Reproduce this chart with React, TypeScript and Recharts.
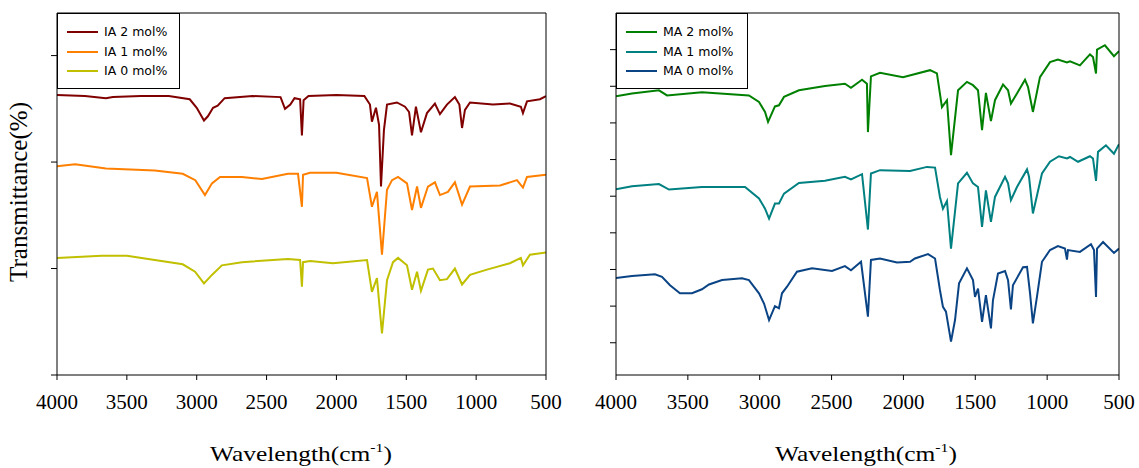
import { Line, LineChart, XAxis, YAxis } from 'recharts';

// wavenumber (cm-1), transmittance (offset, arbitrary units)
const IA2: [number, number][] = [
  [4000, 263], [3800, 262], [3650, 260], [3600, 261], [3400, 262], [3200, 262], [3050, 259], [3000, 251],
  [2948, 239], [2920, 243], [2883, 251], [2850, 253], [2800, 260], [2600, 262], [2400, 261], [2368, 250],
  [2330, 254], [2300, 260], [2260, 259], [2247, 225], [2235, 258], [2200, 262], [2000, 263], [1800, 262],
  [1760, 254], [1746, 238], [1717, 251], [1695, 235], [1681, 177], [1660, 230], [1638, 254], [1567, 256],
  [1509, 252], [1480, 247], [1459, 225], [1431, 252], [1395, 228], [1352, 246], [1295, 255], [1259, 245],
  [1209, 254], [1152, 261], [1120, 254], [1101, 232], [1080, 249], [1044, 256], [880, 254], [758, 255],
  [680, 252], [665, 246], [636, 257], [543, 259], [500, 262],
];

const IA1: [number, number][] = [
  [4000, 196], [3870, 198], [3650, 194], [3300, 192], [3100, 189], [3010, 183], [2941, 169], [2891, 180],
  [2833, 186], [2676, 186], [2533, 184], [2347, 189], [2275, 189], [2247, 158], [2239, 188], [2189, 190],
  [2000, 190], [1781, 185], [1746, 158], [1710, 172], [1674, 113], [1638, 174], [1602, 183], [1559, 186],
  [1495, 180], [1459, 155], [1423, 177], [1395, 157], [1345, 177], [1295, 181], [1259, 169], [1202, 172],
  [1152, 181], [1101, 160], [1044, 177], [829, 178], [708, 183], [665, 176], [636, 186], [500, 188],
];

const IA0: [number, number][] = [
  [4000, 110], [3680, 112], [3500, 112], [3300, 108], [3100, 104], [3012, 97], [2948, 86], [2891, 94],
  [2820, 103], [2676, 106], [2347, 109], [2260, 108], [2247, 83], [2239, 106], [2189, 107], [2025, 105],
  [1781, 108], [1746, 78], [1710, 91], [1674, 39], [1638, 89], [1595, 106], [1559, 110], [1495, 103],
  [1459, 80], [1423, 97], [1395, 79], [1345, 99], [1309, 100], [1259, 89], [1209, 90], [1152, 100],
  [1101, 85], [1044, 94], [923, 99], [758, 105], [680, 110], [665, 103], [615, 113], [500, 115],
];

const MA2: [number, number][] = [
  [4000, 77.3], [3889, 78.0], [3701, 78.9], [3645, 77.5], [3402, 78.4], [3075, 77.5], [3005, 75.7], [2963, 73.0],
  [2942, 70.3], [2894, 74.5], [2866, 74.8], [2831, 77.1], [2727, 78.9], [2546, 80.1], [2407, 80.7], [2365, 79.6],
  [2288, 81.8], [2254, 80.7], [2247, 67.5], [2226, 82.7], [2163, 83.7], [2003, 82.5], [1815, 84.4], [1767, 83.5],
  [1732, 74.3], [1697, 76.2], [1669, 61.2], [1620, 78.9], [1558, 81.2], [1516, 80.3], [1481, 78.9], [1453, 68.0],
  [1426, 78.2], [1391, 70.5], [1363, 76.2], [1307, 80.5], [1272, 78.9], [1252, 75.3], [1210, 78.0], [1154, 81.8],
  [1133, 79.8], [1099, 73.0], [1050, 82.5], [980, 86.6], [925, 87.3], [862, 86.5], [841, 86.8], [772, 85.7],
  [702, 88.7], [681, 88.0], [660, 83.5], [653, 90.0], [598, 91.2], [535, 88.2], [500, 89.6],
];

const MA1: [number, number][] = [
  [4000, 51.9], [3889, 52.7], [3701, 53.3], [3631, 51.8], [3402, 52.5], [3102, 52.5], [3005, 49.4], [2963, 46.6],
  [2935, 43.9], [2894, 48.0], [2866, 48.0], [2831, 50.7], [2727, 53.6], [2546, 54.2], [2407, 55.3], [2365, 54.6],
  [2288, 56.0], [2247, 40.9], [2226, 56.2], [2163, 57.1], [1954, 56.9], [1836, 58.0], [1780, 57.8], [1746, 49.8],
  [1725, 46.6], [1697, 48.7], [1669, 35.7], [1620, 53.5], [1558, 56.4], [1516, 53.5], [1481, 52.5], [1453, 41.6],
  [1426, 51.6], [1391, 43.0], [1363, 49.8], [1293, 55.3], [1272, 53.5], [1252, 48.9], [1210, 52.5], [1140, 57.3],
  [1126, 55.3], [1099, 45.3], [1036, 56.2], [980, 59.4], [918, 60.9], [862, 60.3], [841, 60.7], [785, 59.4],
  [702, 60.9], [681, 60.3], [660, 54.2], [646, 62.1], [591, 63.9], [535, 61.6], [500, 64.2],
];

const MA0: [number, number][] = [
  [4000, 27.7], [3889, 28.2], [3729, 28.7], [3680, 28.0], [3624, 25.7], [3555, 23.5], [3471, 23.5], [3402, 24.6],
  [3353, 25.9], [3262, 27.1], [3123, 27.6], [3075, 27.1], [3005, 23.5], [2970, 20.7], [2935, 16.2], [2894, 20.0],
  [2866, 19.4], [2845, 23.5], [2810, 25.3], [2741, 29.4], [2636, 30.3], [2497, 29.6], [2407, 30.9], [2365, 29.8],
  [2295, 32.1], [2247, 17.1], [2226, 32.6], [2163, 33.0], [2045, 31.9], [1954, 32.1], [1920, 33.0], [1829, 34.2],
  [1780, 33.0], [1746, 24.4], [1725, 19.8], [1704, 18.5], [1669, 10.3], [1641, 16.2], [1613, 26.2], [1558, 30.3],
  [1516, 27.1], [1502, 22.5], [1481, 24.8], [1453, 15.7], [1426, 23.0], [1391, 13.9], [1377, 21.6], [1342, 28.9],
  [1293, 29.6], [1272, 27.1], [1252, 19.1], [1238, 25.7], [1168, 30.6], [1140, 30.7], [1119, 23.5], [1099, 15.3],
  [1071, 22.5], [1036, 32.1], [980, 35.3], [925, 36.4], [876, 35.7], [862, 32.7], [855, 35.3], [772, 34.8],
  [695, 36.9], [674, 35.3], [660, 22.5], [653, 35.7], [611, 37.5], [535, 34.5], [500, 35.7],
];

const xTicks = [4000, 3500, 3000, 2500, 2000, 1500, 1000, 500];
const leftYTicks = [0, 100, 200, 300];
const rightYTicks = [10, 20, 30, 40, 50, 60, 70, 80, 90];

const toRows = (pts: [number, number][]) => pts.map(([w, t]) => ({ w, t }));

const leftSeries = [
  { name: 'IA 2 mol%', color: '#800000', pts: IA2 },
  { name: 'IA 1 mol%', color: '#FF8000', pts: IA1 },
  { name: 'IA 0 mol%', color: '#C0C000', pts: IA0 },
];
const rightSeries = [
  { name: 'MA 2 mol%', color: '#008000', pts: MA2 },
  { name: 'MA 1 mol%', color: '#008080', pts: MA1 },
  { name: 'MA 0 mol%', color: '#0A4485', pts: MA0 },
];

const serif = '"Liberation Serif", "Times New Roman", serif';

function XTick(props: any) {
  const { x, y, payload } = props;
  return (
    <text x={x} y={y + 15} textAnchor="middle" style={{ fontFamily: serif, fontSize: 21, fill: '#000' }}>
      {payload.value}
    </text>
  );
}

function Panel({
  left, width, plotLeft, plotRight, series, yDomain, yTicks, legendWidth,
}: {
  left: number; width: number; plotLeft: number; plotRight: number; legendWidth: number;
  series: { name: string; color: string; pts: [number, number][] }[];
  yDomain: [number, number]; yTicks: number[];
}) {
  return (
    <div style={{ position: 'absolute', left, top: 0 }}>
      <LineChart width={width} height={468} margin={{ top: 12, left: plotLeft - 10, right: width - plotRight - 1, bottom: 63 }}>
        <XAxis
          dataKey="w" type="number" domain={[500, 4000]} reversed allowDataOverflow ticks={xTicks}
          height={30} tickSize={5} tickMargin={14} tickLine={{ stroke: '#000' }} axisLine={{ stroke: '#000' }}
          tick={XTick} interval={0}
        />
        <XAxis
          xAxisId="top" orientation="top" dataKey="w" type="number" domain={[500, 4000]} reversed
          height={1} tick={false} tickLine={false} axisLine={{ stroke: '#000' }}
        />
        <YAxis
          type="number" domain={yDomain} allowDataOverflow ticks={yTicks} width={10} tickSize={6}
          tickLine={{ stroke: '#000' }} axisLine={{ stroke: '#000' }} tick={() => <g />}
        />
        <YAxis
          yAxisId="r" orientation="right" type="number" domain={[0, 1]} width={1}
          tick={false} tickLine={false} axisLine={{ stroke: '#000' }}
        />
        {series.map((s) => (
          <Line
            key={s.name} data={toRows(s.pts)} dataKey="t" name={s.name} type="linear"
            stroke={s.color} strokeWidth={2} dot={false} isAnimationActive={false}
          />
        ))}
      </LineChart>
      <div
        style={{
          position: 'absolute', left: plotLeft, top: 13, width: legendWidth, height: 76,
          border: '1px solid #000', boxSizing: 'border-box', background: '#fff',
          fontFamily: '"DejaVu Sans", Verdana, sans-serif', fontSize: 12.5,
        }}
      >
        {series.map((s, i) => (
          <div key={s.name} style={{ position: 'absolute', left: 9, top: 11 + i * 19.5, display: 'flex', alignItems: 'center' }}>
            <div style={{ width: 31, height: 2, background: s.color }} />
            <span style={{ marginLeft: 6, lineHeight: '14px', whiteSpace: 'pre' }}>{s.name}</span>
          </div>
        ))}
      </div>
    </div>
  );
}

export default function App() {
  return (
    <div style={{ position: 'absolute', left: 0, top: 0, width: 1139, height: 468, background: '#fff' }}>
      <Panel left={0} width={580} plotLeft={57} plotRight={546} legendWidth={123} series={leftSeries} yDomain={[0, 340]} yTicks={leftYTicks} />
      <Panel left={560} width={579} plotLeft={56} plotRight={559} legendWidth={132} series={rightSeries} yDomain={[1.2, 100]} yTicks={rightYTicks} />
      <svg width={1139} height={468} style={{ position: 'absolute', left: 0, top: 0, pointerEvents: 'none' }}>
        <text
          transform="translate(27, 192) rotate(-90)" textAnchor="middle" fontFamily={serif} fontSize={25}
          textLength={180} lengthAdjust="spacingAndGlyphs"
        >
          Transmittance(%)
        </text>
        {[301, 866].map((cx) => (
          <text key={cx} x={cx} y={461} textAnchor="middle" fontFamily={serif} fontSize={21} textLength={182} lengthAdjust="spacingAndGlyphs">
            Wavelength(cm<tspan dy={-9} fontSize={13}>-1</tspan><tspan dy={9}>)</tspan>
          </text>
        ))}
      </svg>
    </div>
  );
}
